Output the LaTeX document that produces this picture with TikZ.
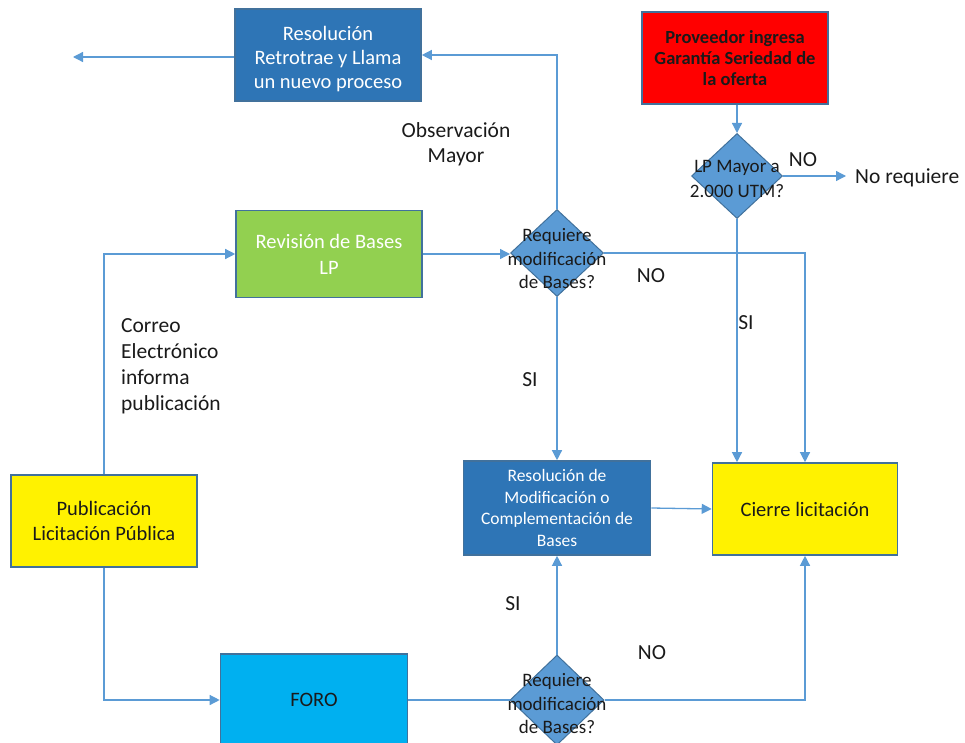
\documentclass[tikz,border=0pt]{standalone}
\usepackage{fontspec}
\setmainfont{Carlito}
\usetikzlibrary{shapes.geometric,arrows.meta}
\definecolor{lineblue}{HTML}{5B9BD5}
\definecolor{boxblue}{HTML}{2E75B6}
\definecolor{edgeblue}{HTML}{41719C}
\definecolor{leafgreen}{HTML}{92D050}
\definecolor{skyblue}{HTML}{00B0F0}
\definecolor{inkdark}{HTML}{1A1A1A}
\begin{document}
\begin{tikzpicture}[x=1pt,y=-1pt,
  box/.style={draw=edgeblue, line width=1.6pt, minimum width=186pt, minimum height=92pt,
    align=center, inner sep=2pt, font=\fontsize{20.5}{24.5}\selectfont},
  bluebox/.style={box, fill=boxblue, text=white},
  boxtext/.style={align=center, inner sep=0pt, font=\fontsize{20.5}{24}\selectfont},
  decision/.style={diamond, draw=edgeblue, line width=1pt, fill=lineblue, inner sep=0pt},
  dtext/.style={align=center, text=inkdark, font=\fontsize{19}{23.5}\selectfont},
  lbl/.style={text=inkdark, font=\fontsize{21.5}{25}\selectfont, inner sep=0pt},
  conn/.style={draw=lineblue, line width=1.3pt},
  arr/.style={conn, -{Triangle[length=10pt,width=10pt]}}
]
\useasboundingbox (0,0) rectangle (965,743);
\clip (0,0) rectangle (965,743);

% process boxes
\node[bluebox] (res) at (328,55) {};
\node[boxtext, text=white] (rest) at (328,59) {Resolución\\Retrotrae y Llama\\un nuevo proceso};
\node[box, fill=red, text=inkdark, font=\fontsize{18.5}{21}\selectfont\bfseries] (gar) at (735,58)
  {Proveedor ingresa\\Garantía Seriedad de\\la oferta};
\node[box, fill=leafgreen, text=white, minimum height=87pt, font=\fontsize{20.5}{26}\selectfont] (rev) at (329,254) {Revisión de Bases\\LP};
\node[bluebox, font=\fontsize{17.5}{21.5}\selectfont, minimum width=187pt, minimum height=94pt] (mod) at (557,508)
  {Resolución de\\Modificación o\\Complementación de\\Bases};
\node[box, fill=yellow, text=inkdark, minimum width=185pt] (cie) at (805,509) {Cierre licitación};
\node[box, fill=yellow, text=inkdark, font=\fontsize{20.5}{25}\selectfont] (pub) at (104,521) {Publicación\\Licitación Pública};
\node[box, fill=skyblue, text=inkdark, minimum width=187pt] (foro) at (314,700) {FORO};

% decisions
\node[decision, minimum width=93pt, minimum height=87pt] (d1) at (557,253) {};
\node[decision, minimum width=91pt, minimum height=85pt] (d2) at (737,176) {};
\node[decision, minimum width=94pt, minimum height=90pt] (d3) at (557,700) {};

% free ends
\coordinate (exitL) at (73,57);
\coordinate (exitR) at (846,176);

% connectors
\draw[arr] (res.west |- exitL) -- (exitL);
\draw[arr] (d1.north) |- (res.east);
\draw[arr] (rev.east) -- (rev.east -| d1.west);
\draw[arr] (d1.east) -| (cie.north);
\draw[arr] (d1.south) -- (mod.north);
\draw[arr] (mod.east) -- (cie.west);
\draw[arr] (pub.north) |- (rev.west);
\draw[arr] (pub.south) |- (foro.west);
\draw[conn] (foro.east) -- (d3.west);
\draw[arr] (d3.east) -| (cie.south);
\draw[arr] (d3.north) -- (mod.south);
\draw[arr] (gar.south -| d2.north) -- (d2.north);
\draw[arr] (d2.east) -- (exitR);
\draw[arr] (d2.south) -- (d2.south |- cie.north);

% decision texts, set a little below each diamond's centre
\node[dtext] (d1t) at ([yshift=-6pt]d1) {Requiere\\modificación\\de Bases?};
\node[dtext, font=\fontsize{19}{25}\selectfont] (d2t) at ([yshift=-3pt]d2) {LP Mayor a\\2.000 UTM?};
\node[dtext] (d3t) at ([yshift=-4pt]d3) {Requiere\\modificación\\de Bases?};

% labels
\node[lbl, anchor=west] (noreq) at (855,178) {No requiere};
\node[lbl] (no2) at (803,160) {NO};
\node[lbl] (si2) at (746,323) {SI};
\node[lbl] (no1) at (651,276) {NO};
\node[lbl] (si1) at (530,380) {SI};
\node[lbl] (si3) at (513,604) {SI};
\node[lbl] (no3) at (652,653) {NO};
\node[lbl, align=center] (obs) at (456,144) {Observación\\Mayor};
\node[lbl, align=left, anchor=west, font=\fontsize{21.5}{26}\selectfont] (mail) at (121,366) {Correo\\Electrónico\\informa\\publicación};
\end{tikzpicture}
\end{document}
